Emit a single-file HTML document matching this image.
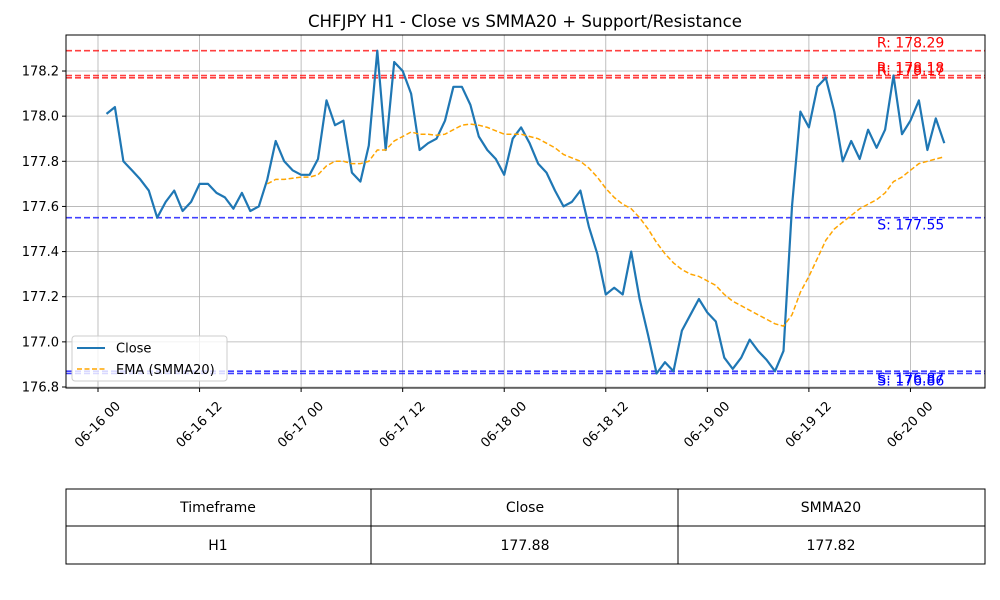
<!DOCTYPE html>
<html><head><meta charset="utf-8"><style>
body{margin:0;background:#fff;}
svg{display:block;font-family:"DejaVu Sans","Liberation Sans",sans-serif;}
</style></head><body>
<svg id="chart" width="1000" height="600" viewBox="0 0 1000 600" xmlns="http://www.w3.org/2000/svg">
<rect width="1000" height="600" fill="#fff"/>
<text x="525" y="27" text-anchor="middle" font-size="16.6">CHFJPY H1 - Close vs SMMA20 + Support/Resistance</text>
<g id="grid"></g>
<g id="levels"></g>
<g id="series"></g>
<rect x="66" y="35" width="919" height="353" fill="none" stroke="#000" stroke-width="1"/>
<g id="axes"></g>
<g>
<rect x="72" y="336" width="155" height="45" rx="3" fill="#fff" fill-opacity="0.8" stroke="#ccc"/>
<line x1="77" y1="348" x2="105" y2="348" stroke="#1f77b4" stroke-width="2"/>
<text x="116" y="352.5" font-size="13">Close</text>
<line x1="77" y1="369" x2="105" y2="369" stroke="orange" stroke-width="1.5" stroke-dasharray="5,2.5"/>
<text x="116" y="374" font-size="13">EMA (SMMA20)</text>
</g>
<g font-size="14">
<rect x="66" y="489" width="919" height="75" fill="none" stroke="#000"/>
<line x1="66" y1="526" x2="985" y2="526" stroke="#000"/>
<line x1="371" y1="489" x2="371" y2="564" stroke="#000"/>
<line x1="678" y1="489" x2="678" y2="564" stroke="#000"/>
<text x="218" y="512" text-anchor="middle">Timeframe</text>
<text x="525" y="512" text-anchor="middle">Close</text>
<text x="831" y="512" text-anchor="middle">SMMA20</text>
<text x="218" y="550" text-anchor="middle">H1</text>
<text x="525" y="550" text-anchor="middle">177.88</text>
<text x="831" y="550" text-anchor="middle">177.82</text>
</g>
</svg>
<script>
const closeVals=[178.01,178.04,177.80,177.76,177.72,177.67,177.55,177.62,177.67,177.58,
177.62,177.70,177.70,177.66,177.64,177.59,177.66,177.58,177.60,177.72,
177.89,177.80,177.76,177.74,177.74,177.81,178.07,177.96,177.98,177.75,
177.71,177.87,178.29,177.85,178.24,178.20,178.10,177.85,177.88,177.90,
177.98,178.13,178.13,178.05,177.91,177.85,177.81,177.74,177.90,177.95,
177.88,177.79,177.75,177.67,177.60,177.62,177.67,177.51,177.39,177.21,
177.24,177.21,177.40,177.19,177.03,176.86,176.91,176.87,177.05,177.12,
177.19,177.13,177.09,176.93,176.88,176.93,177.01,176.96,176.92,176.87,
176.96,177.60,178.02,177.95,178.13,178.17,178.02,177.80,177.89,177.81,
177.94,177.86,177.94,178.18,177.92,177.98,178.07,177.85,177.99,177.88];
const emaStart=19;
const emaVals=[177.70,177.72,177.72,177.725,177.73,177.73,177.74,177.78,177.80,177.80,
177.79,177.79,177.80,177.85,177.85,177.89,177.91,177.93,177.92,177.92,
177.915,177.92,177.94,177.96,177.965,177.96,177.95,177.935,177.92,177.92,
177.92,177.91,177.90,177.88,177.86,177.83,177.815,177.80,177.77,177.73,
177.68,177.64,177.61,177.59,177.55,177.50,177.44,177.39,177.35,177.32,
177.30,177.29,177.27,177.25,177.21,177.18,177.16,177.14,177.12,177.10,
177.08,177.07,177.12,177.22,177.29,177.37,177.45,177.50,177.53,177.56,
177.59,177.61,177.63,177.66,177.71,177.73,177.76,177.79,177.80,177.81,177.82];
const resistance=[178.29,178.18,178.17];
const support=[177.55,176.87,176.86];
const yTicks=[176.8,177.0,177.2,177.4,177.6,177.8,178.0,178.2];
const xTickHours=[0,12,24,36,48,60,72,84,96];
const xTickLabels=["06-16 00","06-16 12","06-17 00","06-17 12","06-18 00","06-18 12","06-19 00","06-19 12","06-20 00"];
const firstHour=1;

const X0=66,X1=985,Y0=35,Y1=388;
function xs(h){return 98+h*8.463;}
function ys(v){return 387-(v-176.8)*225.7;}
const NS="http://www.w3.org/2000/svg";
function mk(tag,attrs,parent){const e=document.createElementNS(NS,tag);for(const k in attrs)e.setAttribute(k,attrs[k]);parent.appendChild(e);return e;}
const grid=document.getElementById('grid'),axes=document.getElementById('axes'),lev=document.getElementById('levels'),ser=document.getElementById('series');
yTicks.forEach(v=>{const y=ys(v);
const g=mk('line',{x1:X0,x2:X1,y1:y,y2:y,stroke:'#b0b0b0','stroke-width':0.8},grid);


mk('line',{x1:X0-4,x2:X0,y1:y,y2:y,stroke:'#000'},axes);
const t=mk('text',{x:X0-7,y:y+4.5,'text-anchor':'end','font-size':13},axes);t.textContent=v.toFixed(1);

});
xTickHours.forEach((h,i)=>{const x=xs(h);
const g=mk('line',{x1:x,x2:x,y1:Y0,y2:Y1,stroke:'#b0b0b0','stroke-width':0.8},grid);


mk('line',{x1:x,x2:x,y1:Y1,y2:Y1+4,stroke:'#000'},axes);
const t=mk('text',{x:0,y:0,'text-anchor':'middle','dominant-baseline':'central','font-size':13,transform:`translate(${x},${Y1+37}) rotate(-45)`},axes);t.textContent=xTickLabels[i];

});
const lastX=xs(firstHour+closeVals.length-1);
resistance.forEach(v=>{const y=ys(v);
const l=mk('line',{x1:X0,x2:X1,y1:y,y2:y,stroke:'red','stroke-opacity':0.75,'stroke-width':1.6,'stroke-dasharray':'6,3'},lev);


const t=mk('text',{x:lastX,y:y-3,'text-anchor':'end','font-size':14,fill:'red'},lev);t.textContent='R: '+v.toFixed(2);

});
support.forEach(v=>{const y=ys(v);
const l=mk('line',{x1:X0,x2:X1,y1:y,y2:y,stroke:'blue','stroke-opacity':0.75,'stroke-width':1.6,'stroke-dasharray':'6,3'},lev);


const t=mk('text',{x:lastX,y:y+12,'text-anchor':'end','font-size':14,fill:'blue'},lev);t.textContent='S: '+v.toFixed(2);

});
const cp=closeVals.map((v,i)=>xs(firstHour+i).toFixed(1)+','+ys(v).toFixed(1)).join(' ');
const cl=mk('polyline',{points:cp,fill:'none',stroke:'#1f77b4','stroke-width':2.2,'stroke-linejoin':'round'},ser);


const ep=emaVals.map((v,i)=>xs(firstHour+emaStart+i).toFixed(1)+','+ys(v).toFixed(1)).join(' ');
const el=mk('polyline',{points:ep,fill:'none',stroke:'orange','stroke-width':1.5,'stroke-dasharray':'5,2.5'},ser);


</script>
</body></html>
